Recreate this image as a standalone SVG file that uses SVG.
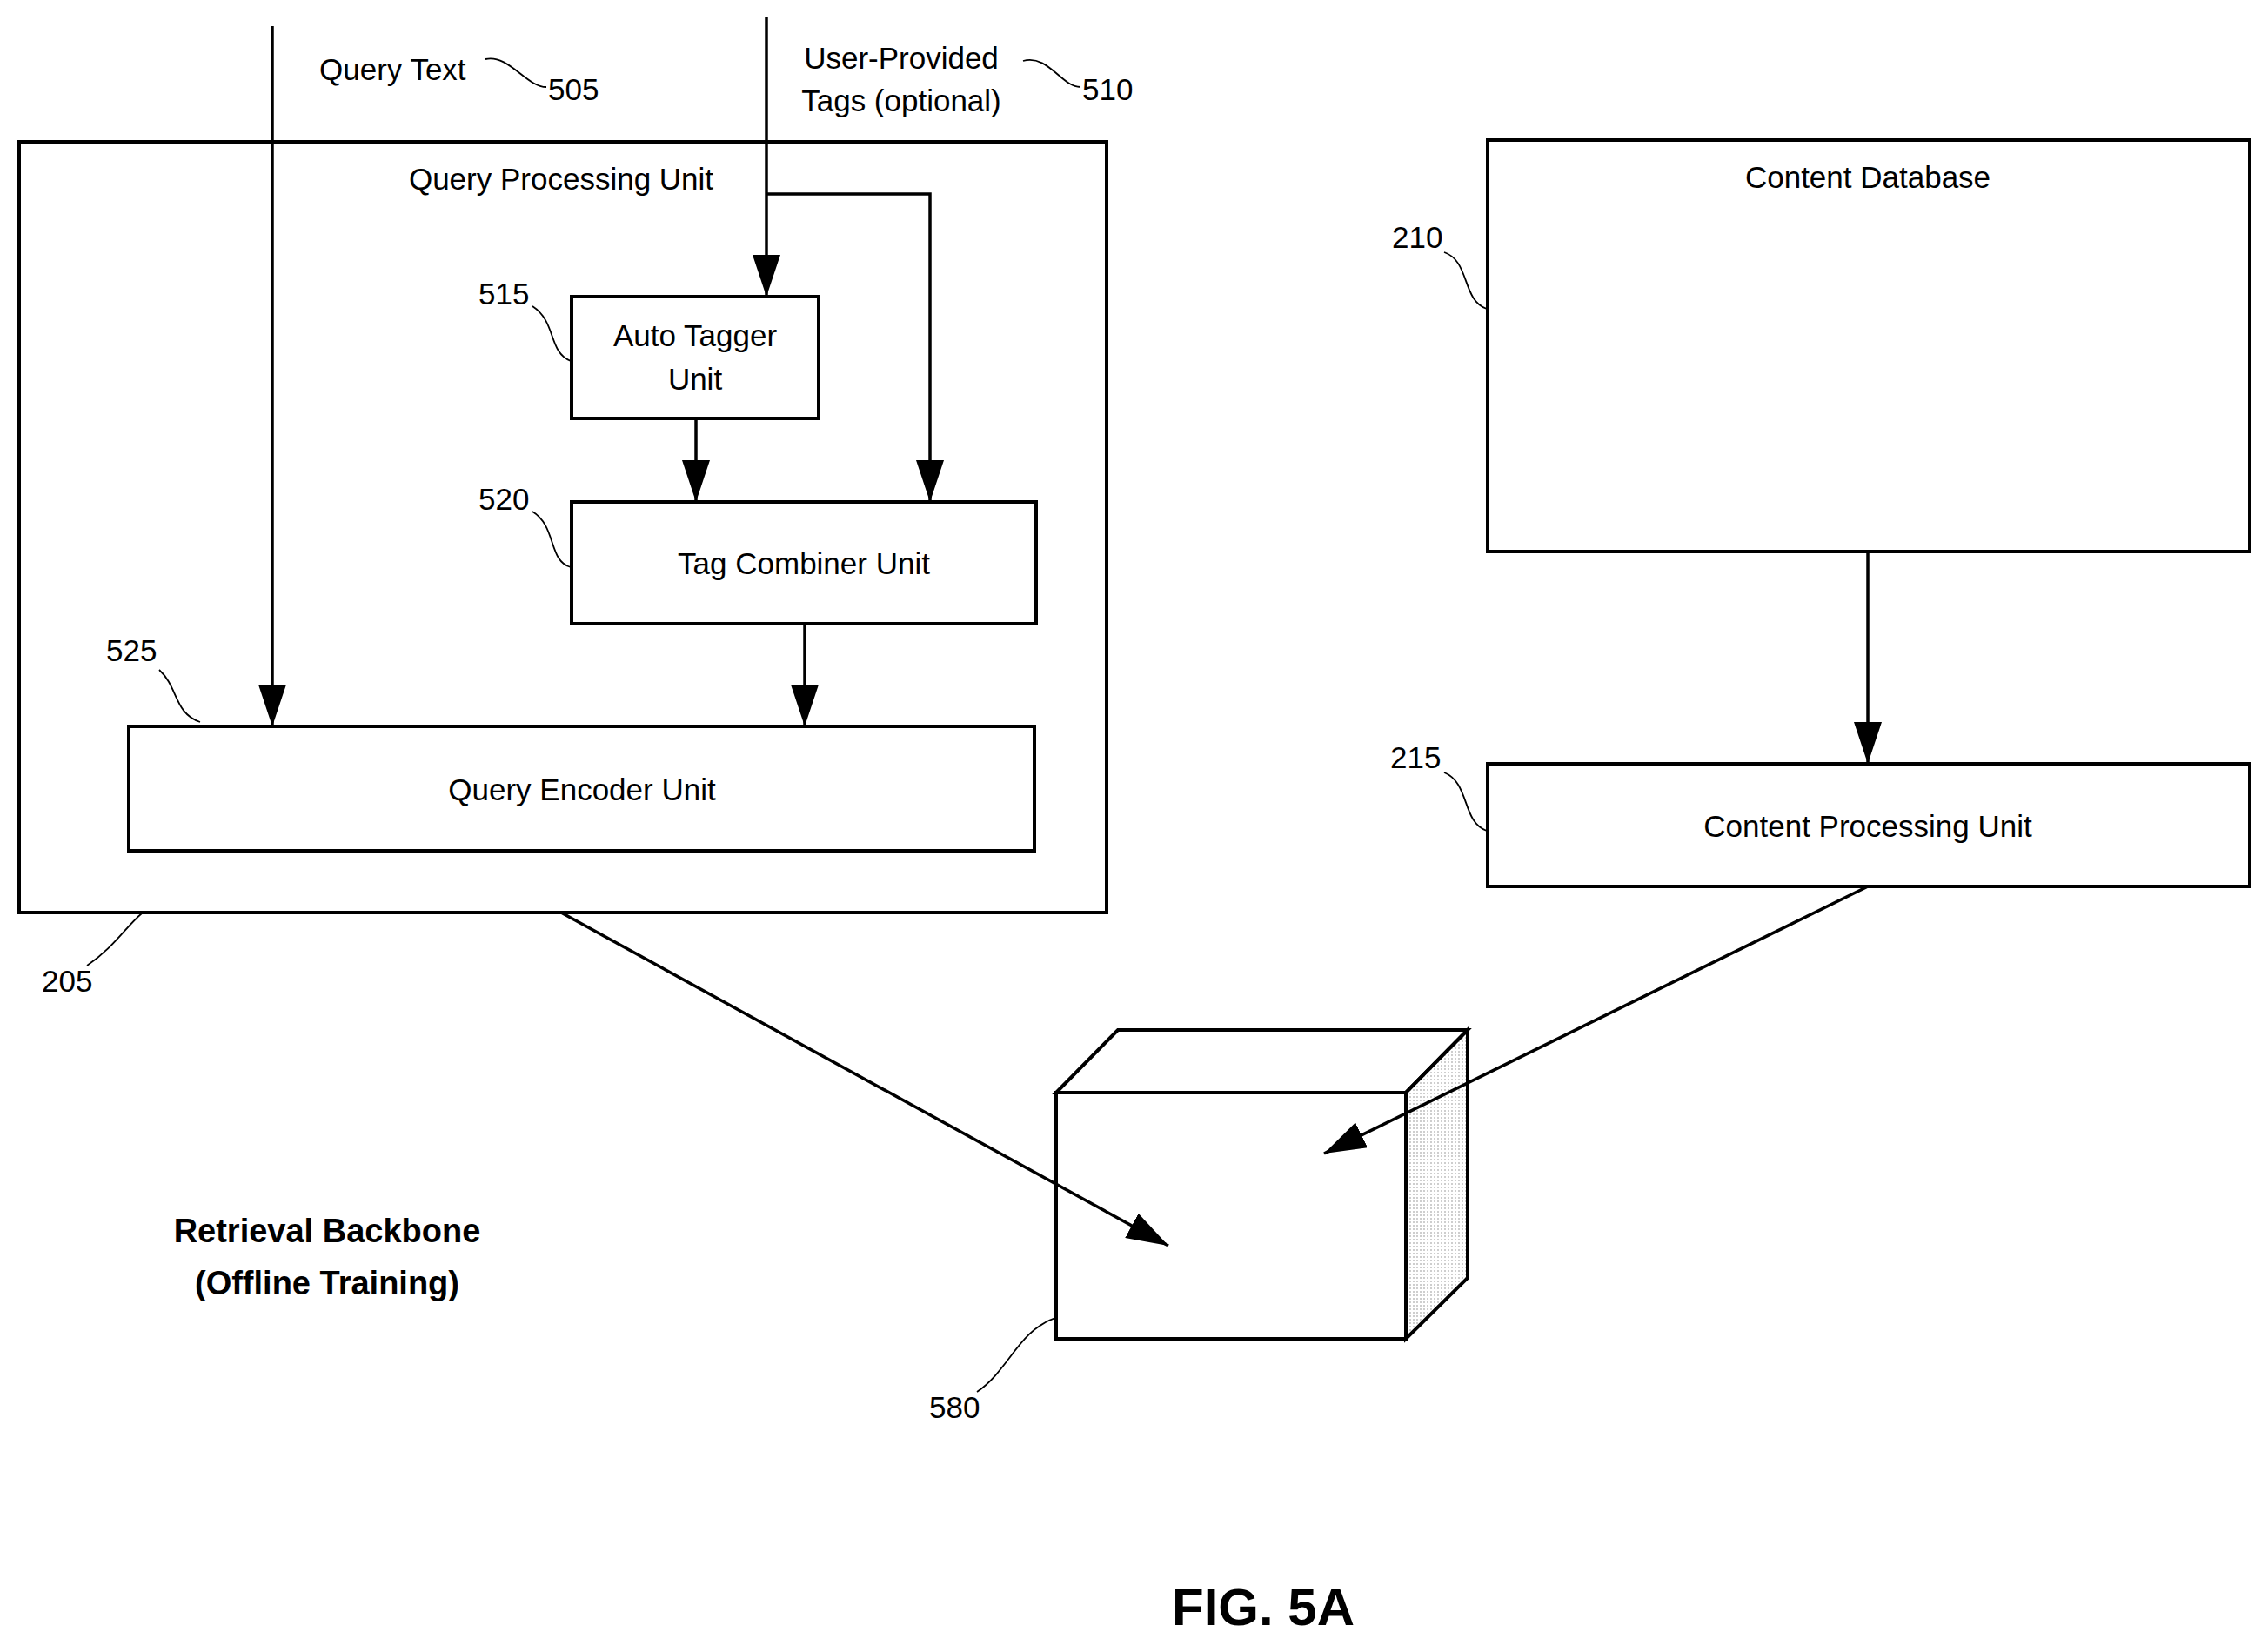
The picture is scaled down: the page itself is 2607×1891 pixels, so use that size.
<svg xmlns="http://www.w3.org/2000/svg" width="2607" height="1891" viewBox="0 0 2607 1891">
<style>
text{font-family:"Liberation Sans",Arial,sans-serif;font-size:35px;fill:#000}
.c{text-anchor:middle}
.b{stroke:#000;stroke-width:4;fill:#fff}
.l{stroke:#000;stroke-width:3.5;fill:none}
.t{stroke:#000;stroke-width:1.8;fill:none}
</style>
<defs>
<marker id="a" viewBox="0 0 10 10" refX="10" refY="5" markerWidth="8" markerHeight="8" markerUnits="userSpaceOnUse" orient="auto"><path d="M0,0L10,5L0,10z"/></marker>
<marker id="A" viewBox="0 0 10 10" refX="10" refY="5" markerWidth="48" markerHeight="32" markerUnits="userSpaceOnUse" orient="auto" preserveAspectRatio="none"><path d="M0,0L10,5L0,10z"/></marker>
<pattern id="dots" width="4" height="4" patternUnits="userSpaceOnUse"><rect width="4" height="4" fill="#fff"/><circle cx="1" cy="1" r="0.7" fill="#777"/></pattern>
</defs>
<g id="qpu"><rect class="b" x="22" y="163" width="1250" height="886"/><text class="c" x="645" y="218">Query Processing Unit</text></g>
<g id="autotagger"><rect class="b" x="657" y="341" width="284" height="140"/><text class="c" x="799" y="398">Auto Tagger</text><text class="c" x="799" y="448">Unit</text></g>
<g id="tagcombiner"><rect class="b" x="657" y="577" width="534" height="140"/><text class="c" x="924" y="660">Tag Combiner Unit</text></g>
<g id="encoder"><rect class="b" x="148" y="835" width="1041" height="143"/><text class="c" x="669" y="920">Query Encoder Unit</text></g>
<g id="contentdb"><rect class="b" x="1710" y="161" width="876" height="473"/><text class="c" x="2147" y="216">Content Database</text></g>
<g id="cpu"><rect class="b" x="1710" y="878" width="876" height="141"/><text class="c" x="2147" y="962">Content Processing  Unit</text></g>
<g id="cube">
<path class="b" d="M1214,1256L1285,1184L1687,1184L1616,1256Z"/>
<path class="b" d="M1616,1256L1687,1184L1687,1469L1616,1539Z" fill="url(#dots)" style="fill:url(#dots)"/>
<rect class="b" x="1214" y="1256" width="402" height="283"/>
</g>
<g id="connectors">
<path class="l" d="M313,30V835" marker-end="url(#A)"/>
<path class="l" d="M881,20V341" marker-end="url(#A)"/>
<path class="l" d="M881,223H1069V577" marker-end="url(#A)"/>
<path class="l" d="M800,481V577" marker-end="url(#A)"/>
<path class="l" d="M925,717V835" marker-end="url(#A)"/>
<path class="l" d="M2147,634V878" marker-end="url(#A)"/>
<path class="l" d="M645,1049L1343,1432" marker-end="url(#A)"/>
<path class="l" d="M2147,1019L1522,1326" marker-end="url(#A)"/>
</g>
<g id="labels">
<text x="367" y="92">Query Text</text>
<text class="c" x="1036" y="79">User-Provided</text>
<text class="c" x="1036" y="128">Tags (optional)</text>
<text x="630" y="115">505</text><path class="t" d="M558,68C585,62 605,100 628,100"/>
<text x="1244" y="115">510</text><path class="t" d="M1176,70C1205,62 1220,100 1242,100"/>
<text x="550" y="350">515</text><path class="t" d="M612,352C640,370 630,405 656,415"/>
<text x="550" y="586">520</text><path class="t" d="M612,588C640,605 630,645 656,652"/>
<text x="122" y="760">525</text><path class="t" d="M183,770C205,790 200,820 230,830"/>
<text x="48" y="1140">205</text><path class="t" d="M100,1110C130,1090 145,1065 163,1050"/>
<text x="1600" y="285">210</text><path class="t" d="M1660,290C1690,300 1680,345 1709,355"/>
<text x="1598" y="883">215</text><path class="t" d="M1660,888C1690,900 1680,945 1709,955"/>
<text x="1068" y="1630">580</text><path class="t" d="M1123,1600C1160,1575 1170,1530 1213,1515"/>
<text class="c" x="376" y="1428" style="font-weight:bold;font-size:38px">Retrieval Backbone</text>
<text class="c" x="376" y="1488" style="font-weight:bold;font-size:38px">(Offline Training)</text>
<text class="c" x="1452" y="1868" style="font-weight:bold;font-size:60px">FIG. 5A</text>
</g>
</svg>
